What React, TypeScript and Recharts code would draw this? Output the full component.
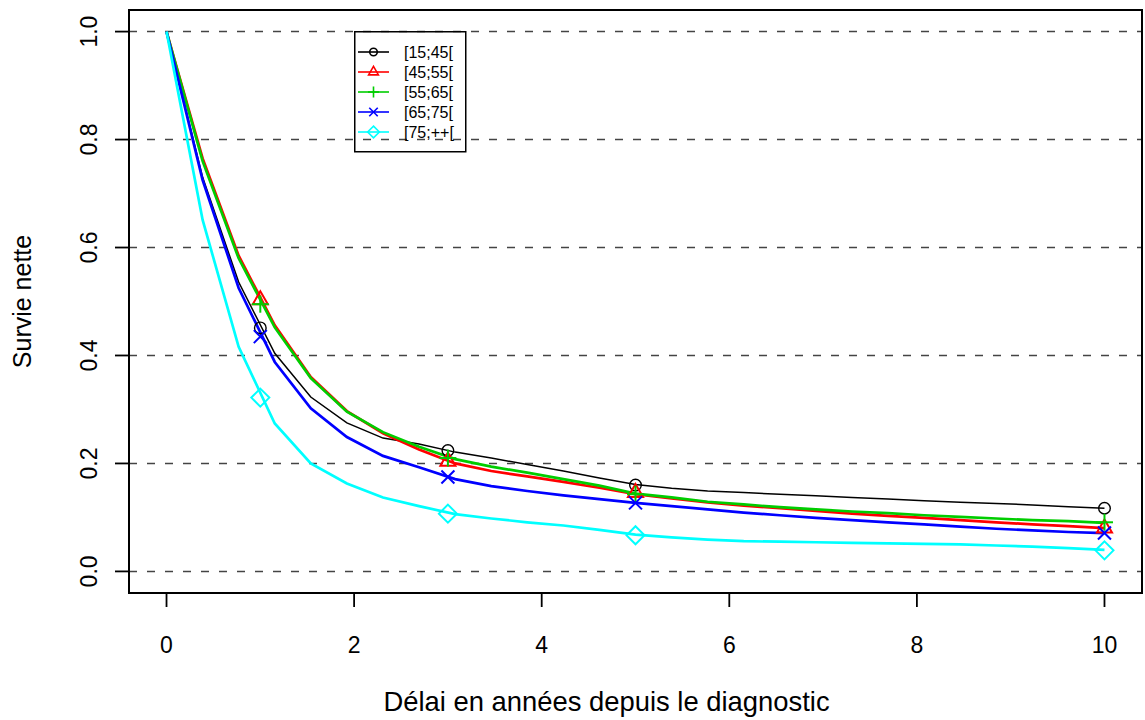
import { ComposedChart, Line, XAxis, YAxis, CartesianGrid, ReferenceArea, Legend, Label } from 'recharts'

const FONT = '"Liberation Sans", Arial, Helvetica, sans-serif'

// time grid of the smoothed curves (years)
const TIMES = [
  0, 0.385, 0.769, 1.154, 1.538, 1.923, 2.308, 2.692, 3.077, 3.462, 3.846, 4.231, 4.615, 5,
  5.385, 5.769, 6.154, 6.538, 6.923, 7.308, 7.692, 8.077, 8.462, 8.846, 9.231, 9.615, 10,
]

const AGE_GROUPS = ['[15;45[', '[45;55[', '[55;65[', '[65;75[', '[75;++[']
const COLORS = ['#000000', '#ff0000', '#00cd00', '#0000ff', '#00ffff']
const SHAPES = ['circle', 'triangle', 'plus', 'cross', 'diamond']

const SURV_15_45 = [
  1, 0.73, 0.536, 0.404, 0.323, 0.275, 0.247, 0.236, 0.221, 0.21, 0.198, 0.186, 0.173, 0.161,
  0.154, 0.149, 0.146, 0.143, 0.14, 0.137, 0.134, 0.131, 0.128, 0.126, 0.123, 0.12, 0.117,
]
const SURV_45_55 = [
  1, 0.765, 0.585, 0.456, 0.36, 0.297, 0.256, 0.226, 0.2, 0.186, 0.176, 0.166, 0.155, 0.143,
  0.135, 0.128, 0.122, 0.117, 0.112, 0.107, 0.103, 0.099, 0.095, 0.091, 0.087, 0.084, 0.08,
]
const SURV_55_65 = [
  1, 0.76, 0.58, 0.452, 0.358, 0.296, 0.258, 0.231, 0.208, 0.194, 0.183, 0.171, 0.159, 0.144,
  0.137, 0.129, 0.124, 0.119, 0.115, 0.111, 0.108, 0.104, 0.101, 0.098, 0.095, 0.093, 0.09,
]
const SURV_65_75 = [
  1, 0.725, 0.525, 0.388, 0.302, 0.249, 0.214, 0.193, 0.171, 0.158, 0.149, 0.141, 0.134, 0.127,
  0.121, 0.115, 0.109, 0.104, 0.099, 0.095, 0.091, 0.087, 0.083, 0.079, 0.076, 0.073, 0.071,
]
const SURV_75_PLUS = [
  1, 0.651, 0.416, 0.274, 0.2, 0.163, 0.137, 0.121, 0.106, 0.098, 0.091, 0.085, 0.077, 0.068,
  0.063, 0.059, 0.056, 0.055, 0.054, 0.053, 0.052, 0.051, 0.05, 0.048, 0.046, 0.043, 0.04,
]

// point estimates at 1, 3, 5 and 10 years
const MARK_TIMES = [1, 3, 5, 10]
const MARK_15_45 = [0.451, 0.224, 0.16, 0.117]
const MARK_45_55 = [0.503, 0.204, 0.146, 0.08]
const MARK_55_65 = [0.495, 0.21, 0.143, 0.091]
const MARK_65_75 = [0.435, 0.175, 0.127, 0.071]
const MARK_75_PLUS = [0.322, 0.107, 0.067, 0.039]

const X_TICKS = [0, 2, 4, 6, 8, 10]
const Y_TICKS = [0, 0.2, 0.4, 0.6, 0.8, 1]

const CURVES = [SURV_15_45, SURV_45_55, SURV_55_65, SURV_65_75, SURV_75_PLUS]
const MARKS = [MARK_15_45, MARK_45_55, MARK_55_65, MARK_65_75, MARK_75_PLUS]

const curveRows = TIMES.map((t, k) => {
  const row: any = { t }
  CURVES.forEach((s, i) => { row['s' + i] = s[k] })
  return row
})

const markRows = MARK_TIMES.map((t, k) => {
  const row: any = { t }
  MARKS.forEach((s, i) => { row['m' + i] = s[k] })
  return row
})

const lineWidth = (i: number) => (i === 0 ? 1.5 : 2.7)

function Marker({ shape, cx, cy, color, s = 1, sw }: any) {
  const w = sw ?? (color === '#000000' ? 1.4 : 2)
  if (shape === 'circle') {
    return <circle cx={cx} cy={cy} r={5.8 * s} fill="none" stroke={color} strokeWidth={w} />
  }
  if (shape === 'triangle') {
    const r = 8.7 * s
    const hw = r * 0.866
    return (
      <polygon
        points={`${cx},${cy - r} ${cx + hw},${cy + r / 2} ${cx - hw},${cy + r / 2}`}
        fill="none" stroke={color} strokeWidth={w}
      />
    )
  }
  if (shape === 'plus') {
    const a = 8.5 * s
    return (
      <g stroke={color} strokeWidth={w}>
        <line x1={cx - a} x2={cx + a} y1={cy} y2={cy} />
        <line x1={cx} x2={cx} y1={cy - a} y2={cy + a} />
      </g>
    )
  }
  if (shape === 'cross') {
    const a = 6.5 * s
    return (
      <g stroke={color} strokeWidth={w}>
        <line x1={cx - a} x2={cx + a} y1={cy - a} y2={cy + a} />
        <line x1={cx - a} x2={cx + a} y1={cy + a} y2={cy - a} />
      </g>
    )
  }
  const a = 9 * s
  return (
    <polygon
      points={`${cx},${cy - a} ${cx + a},${cy} ${cx},${cy + a} ${cx - a},${cy}`}
      fill="none" stroke={color} strokeWidth={w}
    />
  )
}

const XTick = ({ x, y, payload }: any) => (
  <text x={x} y={y + 45.6} textAnchor="middle" fontSize={23} fontFamily={FONT} fill="#000">
    {payload.value}
  </text>
)

const YTick = ({ x, y, payload }: any) => (
  <text
    transform={`translate(${x - 18.4},${y}) rotate(-90)`}
    textAnchor="middle" fontSize={23} fontFamily={FONT} fill="#000"
  >
    {Number(payload.value).toFixed(1)}
  </text>
)

const LegendBox = () => (
  <svg width={113} height={122} style={{ display: 'block', overflow: 'visible' }}>
    <rect x={0.75} y={0.75} width={111} height={120} fill="none" stroke="#000" strokeWidth={1.5} />
    {AGE_GROUPS.map((g, i) => {
      const y = 21 + i * 20
      return (
        <g key={g}>
          <line x1={4} x2={35} y1={y} y2={y} stroke={COLORS[i]} strokeWidth={1.6} />
          <Marker shape={SHAPES[i]} cx={19.5} cy={y} color={COLORS[i]} s={0.65} sw={1.6} />
          <text x={50} y={y + 5.8} fontSize={16} fontFamily={FONT} fill="#000">{g}</text>
        </g>
      )
    })}
  </svg>
)

export default function App() {
  return (
    <div style={{ position: 'absolute', left: 0, top: 0, background: '#fff' }}>
      <ComposedChart
        width={1145}
        height={720}
        data={curveRows}
        margin={{ top: 10, right: 3, bottom: 67, left: 0 }}
      >
        <CartesianGrid vertical={false} stroke="#444" strokeWidth={1.5} strokeDasharray="8 10" />
        <XAxis
          dataKey="t"
          type="number"
          domain={[-0.4, 10.4]}
          ticks={X_TICKS}
          height={60}
          axisLine={false}
          tickLine={{ stroke: '#000', strokeWidth: 1.8 }}
          tickSize={14}
          tickMargin={0}
          tick={<XTick />}
          interval={0}
        >
          <Label
            content={({ viewBox }: any) => (
              <text
                x={viewBox.x + viewBox.width / 2 - 29} y={711}
                textAnchor="middle" fontSize={27.4} fontFamily={FONT} fill="#000"
              >
                Délai en années depuis le diagnostic
              </text>
            )}
          />
        </XAxis>
        <YAxis
          type="number"
          domain={[-0.04, 1.04]}
          ticks={Y_TICKS}
          width={129}
          axisLine={false}
          tickLine={{ stroke: '#000', strokeWidth: 1.8 }}
          tickSize={14}
          tickMargin={0}
          tick={<YTick />}
          interval={0}
        >
          <Label
            content={({ viewBox }: any) => (
              <text
                transform={`translate(30.5,${viewBox.y + viewBox.height / 2}) rotate(-90)`}
                textAnchor="middle" fontSize={25} fontFamily={FONT} fill="#000"
              >
                Survie nette
              </text>
            )}
          />
        </YAxis>
        <ReferenceArea x1={-0.4} x2={10.4} y1={-0.04} y2={1.04} fill="none" stroke="#000" strokeWidth={2} />
        {AGE_GROUPS.map((g, i) => (
          <Line
            key={'c' + i}
            name={g}
            dataKey={'s' + i}
            type="linear"
            stroke={COLORS[i]}
            strokeWidth={lineWidth(i)}
            dot={false}
            activeDot={false}
            isAnimationActive={false}
          />
        ))}
        {AGE_GROUPS.map((g, i) => (
          <Line
            key={'m' + i}
            data={markRows}
            dataKey={'m' + i}
            type="linear"
            stroke="none"
            legendType="none"
            dot={(p: any) => (
              <Marker key={`mk-${i}-${p.index}`} shape={SHAPES[i]} cx={p.cx} cy={p.cy} color={COLORS[i]} />
            )}
            activeDot={false}
            isAnimationActive={false}
          />
        ))}
        <Legend
          layout="vertical"
          align="center"
          verticalAlign="middle"
          content={<LegendBox />}
          wrapperStyle={{ left: 354, top: 31, width: 113, height: 122 }}
        />
      </ComposedChart>
    </div>
  )
}
